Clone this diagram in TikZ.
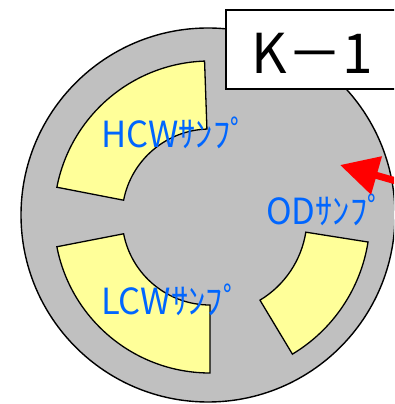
\documentclass[tikz,border=0pt]{standalone}
\usepackage{fontspec}
\setmainfont{Noto Sans CJK JP}
\usetikzlibrary{arrows.meta,calc}
\definecolor{diskgray}{RGB}{192,192,192}
\definecolor{sectyellow}{RGB}{255,255,153}
\definecolor{labelblue}{RGB}{0,102,255}
\tikzset{
  disk/.style={fill=diskgray,draw=black,line width=1.4pt},
  sector/.style={fill=sectyellow,draw=black,line width=1.3pt,line join=miter},
  samplabel/.style={text=labelblue,font=\fontsize{36}{36}\selectfont,anchor=base west,inner sep=0pt,xscale=0.96},
  titlebox/.style={fill=white,draw=black,line width=1.4pt},
  pointer/.style={draw=red,line width=7pt,-{Triangle[length=38pt,width=38pt]}}
}
\begin{document}
\begin{tikzpicture}[x=1pt,y=1pt]
\useasboundingbox (0,0) rectangle (394,404);
\clip (0,0) rectangle (394,404);
\coordinate (D) at (208,189);
\coordinate (C) at (210,187);
\draw[disk] (D) circle[radius=187];
% HCW sector
\draw[sector] ($(C)+(92:156)$) arc[start angle=92,end angle=169,radius=156]
  -- ($(C)+(169:88)$) arc[start angle=169,end angle=92,radius=88] -- cycle;
% LCW sector
\draw[sector] ($(C)+(191:156)$) arc[start angle=191,end angle=270,radius=156]
  -- ($(C)+(270:88)$) arc[start angle=270,end angle=191,radius=88] -- cycle;
% OD sector
\draw[sector] ($(C)+(-59:160)$) arc[start angle=-59,end angle=-9,radius=160]
  -- ($(C)+(-9:97)$) arc[start angle=-9,end angle=-59,radius=97] -- cycle;
\node[samplabel] (hcw) at (101,256) {HCWｻﾝﾌﾟ};
\node[samplabel] (lcw) at (101,89) {LCWｻﾝﾌﾟ};
\node[samplabel] (od) at (266,179) {ODｻﾝﾌﾟ};
% title box
\draw[titlebox] (226,394) rectangle (400,315);
\node[font=\fontsize{55}{55}\selectfont,inner sep=0pt] (title) at (312,351) {K－1};
% red arrow
\coordinate (arrtail) at (431,213);
\coordinate (arrtip) at (340,239);
\draw[pointer] (arrtail) -- (arrtip);
\end{tikzpicture}
\end{document}
